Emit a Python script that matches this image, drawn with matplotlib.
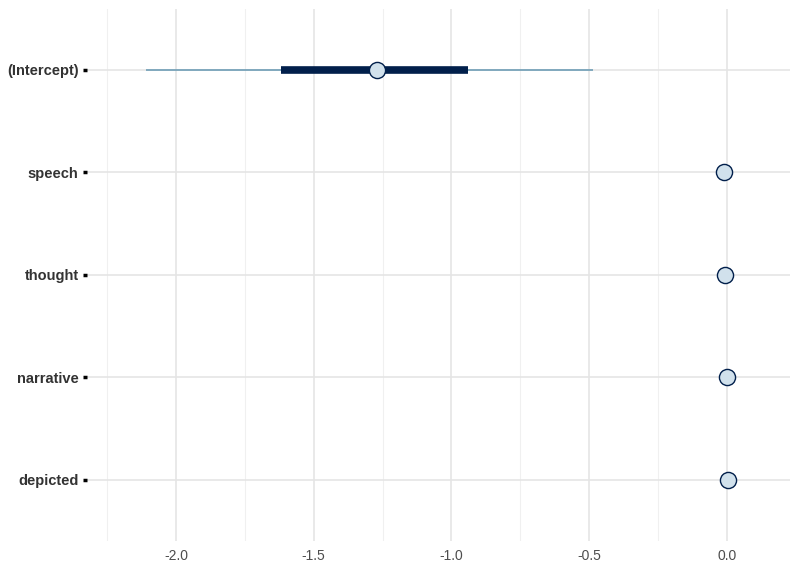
import matplotlib
matplotlib.use("Agg")
import matplotlib.pyplot as plt
import numpy as np

# Datos
parametros = ["(Intercept)", "speech", "thought", "narrative", "depicted"]
mediana = [-1.27, -0.01, -0.007, 0.0, 0.004]
ll = [-2.11, -0.01, -0.007, 0.0, 0.004]
l = [-1.62, -0.01, -0.007, 0.0, 0.004]
h = [-0.94, -0.01, -0.007, 0.0, 0.004]
hh = [-0.485, -0.01, -0.007, 0.0, 0.004]

plt.rcParams['font.family'] = ['Liberation Sans', 'DejaVu Sans']

fig = plt.figure(figsize=(8, 5.71), dpi=100)
ax = fig.add_axes([87 / 800, 30 / 571, 703 / 800, 532.5 / 571])

y = np.arange(len(parametros), 0, -1)

ax.hlines(y, ll, hh, color="#6497b1", linewidth=1.1, zorder=3)
ax.hlines(y, l, h, color="#011f4b", linewidth=5.5, zorder=4)
ax.scatter(mediana, y, s=135, facecolor="#d1e1ec", edgecolor="#011f4b",
           linewidth=1.0, zorder=5)

ax.set_xlim(-2.323, 0.229)
ax.set_ylim(0.4, len(parametros) + 0.6)

ax.set_xticks([-2.0, -1.5, -1.0, -0.5, 0.0])
ax.set_xticklabels(["-2.0", "-1.5", "-1.0", "-0.5", "0.0"])
ax.set_xticks([-2.25, -1.75, -1.25, -0.75, -0.25], minor=True)
ax.set_yticks(y)
ax.set_yticklabels(parametros, fontweight="bold")

ax.grid(True, which="major", color="#e5e5e5", linewidth=1.2, zorder=0)
ax.grid(True, which="minor", axis="x", color="#f0f0f0", linewidth=0.8, zorder=0)
ax.set_axisbelow(True)

for s in ax.spines.values():
    s.set_visible(False)

ax.tick_params(axis="x", which="both", length=0, labelsize=10,
               labelcolor="#4d4d4d", pad=6)
ax.tick_params(axis="y", length=3, width=2.5, color="black", labelsize=10.5,
               labelcolor="#333333", pad=3)

plt.savefig("out.png", dpi=100)
